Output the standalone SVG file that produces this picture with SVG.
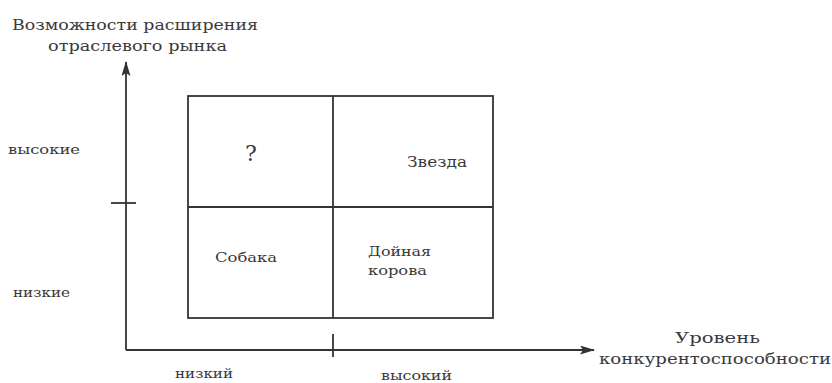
<svg xmlns="http://www.w3.org/2000/svg" width="832" height="383" viewBox="0 0 832 383">
<style>
text{font-family:"DejaVu Serif","Liberation Serif","Noto Serif","Times New Roman",serif;fill:#3a3a3a}
.t{font-size:15px}
.s{font-size:13px}
.ln{stroke:#333;stroke-width:1.8;fill:none}
</style>
<defs>
<marker id="ah" markerWidth="15" markerHeight="9" refX="14" refY="4.5" orient="auto" markerUnits="userSpaceOnUse">
<path d="M0,0 L15,4.5 L0,9 L3,4.5 Z" fill="#333"/>
</marker>
</defs>
<rect width="832" height="383" fill="#fff"/>
<g id="connectors">
<line class="ln" x1="126" y1="350" x2="126" y2="62" marker-end="url(#ah)"/>
<line class="ln" x1="126" y1="350" x2="594" y2="350" marker-end="url(#ah)"/>
<line class="ln" x1="111" y1="203" x2="136" y2="203"/>
<line class="ln" x1="333" y1="334" x2="333" y2="357"/>
</g>
<g id="matrix">
<rect class="ln" x="188" y="96" width="305" height="222"/>
<line class="ln" x1="333" y1="96" x2="333" y2="318"/>
<line class="ln" x1="188" y1="207" x2="493" y2="207"/>
</g>
<g id="y-title">
<text class="t" x="12" y="30" textLength="246" lengthAdjust="spacingAndGlyphs">Возможности расширения</text>
<text class="t" x="48" y="51" textLength="179" lengthAdjust="spacingAndGlyphs">отраслевого рынка</text>
</g>
<g id="y-high"><text class="s" x="8" y="154" textLength="72" lengthAdjust="spacingAndGlyphs">высокие</text></g>
<g id="y-low"><text class="s" x="13" y="297" textLength="57" lengthAdjust="spacingAndGlyphs">низкие</text></g>
<g id="q1"><text x="245" y="161" font-size="22">?</text></g>
<g id="q2"><text class="t" x="407" y="167" textLength="60" lengthAdjust="spacingAndGlyphs">Звезда</text></g>
<g id="q3"><text class="s" x="215" y="262" textLength="62" lengthAdjust="spacingAndGlyphs">Собака</text></g>
<g id="q4">
<text class="s" x="368" y="256" textLength="63" lengthAdjust="spacingAndGlyphs">Дойная</text>
<text class="s" x="368" y="275" textLength="59" lengthAdjust="spacingAndGlyphs">корова</text>
</g>
<g id="x-title">
<text class="t" x="675" y="343" textLength="85" lengthAdjust="spacingAndGlyphs">Уровень</text>
<text class="t" x="599" y="364" textLength="232" lengthAdjust="spacingAndGlyphs">конкурентоспособности</text>
</g>
<g id="x-low"><text class="s" x="175" y="378" textLength="58" lengthAdjust="spacingAndGlyphs">низкий</text></g>
<g id="x-high"><text class="s" x="381" y="380" textLength="71" lengthAdjust="spacingAndGlyphs">высокий</text></g>
</svg>
